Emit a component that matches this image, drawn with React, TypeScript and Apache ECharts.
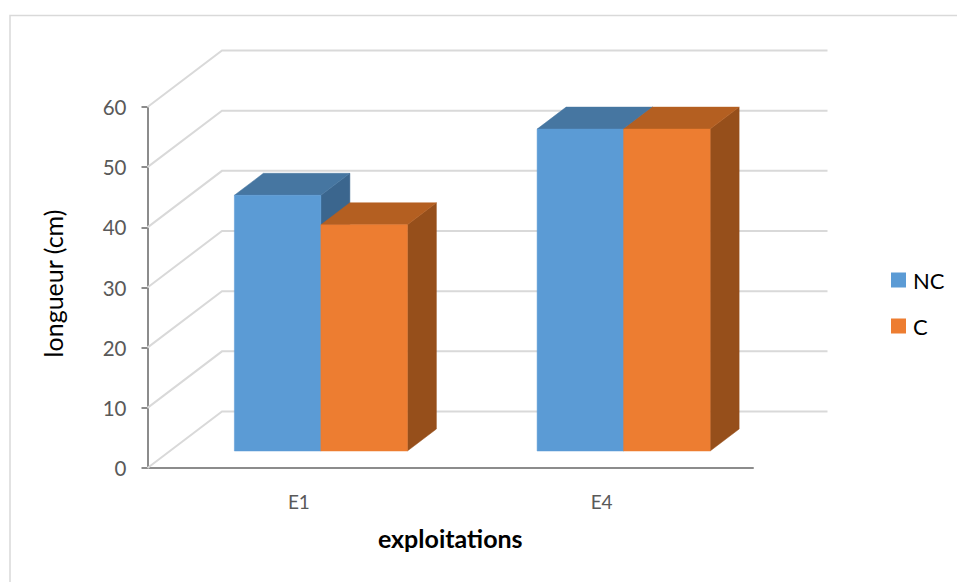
import React, { useEffect, useRef } from "react";
import * as echarts from "echarts";

const categories = ["E1", "E4"];
const ncValues = [42.5, 53.5];
const cValues = [37.6, 53.5];
const yTicks = [0, 10, 20, 30, 40, 50, 60];
const seriesNames = ["NC", "C"];
const FONT = "Lato, Carlito, sans-serif";

const palette = [
  { front: "#5B9BD5", top: "#4676A1", side: "#3B668E" },
  { front: "#ED7D31", top: "#B45F21", side: "#964F1B" },
];

const WALL_DX = 74.5;
const WALL_DY = 56.5;
const BAR_W = 86.5;
const BAR_DX = 29;
const BAR_DY = 22;
const FRONT_DX = 22;
const FRONT_DY = 17;

function renderBar(seriesIdx: number) {
  return (params: any, api: any) => {
    const [cx, y0] = api.coord([api.value(0), 0]);
    const [, yTop] = api.coord([api.value(0), api.value(1)]);
    const x1 = cx + FRONT_DX + (seriesIdx - 1) * BAR_W;
    const x2 = x1 + BAR_W;
    const b = y0 - FRONT_DY;
    const t = yTop - FRONT_DY;
    const c = palette[seriesIdx];
    const poly = (points: number[][], fill: string) => ({
      type: "polygon",
      shape: { points },
      style: { fill, stroke: fill, lineWidth: 0.5 },
    });
    return {
      type: "group",
      children: [
        poly([[x2, t], [x2 + BAR_DX, t - BAR_DY], [x2 + BAR_DX, b - BAR_DY], [x2, b]], c.side),
        poly([[x1, t], [x1 + BAR_DX, t - BAR_DY], [x2 + BAR_DX, t - BAR_DY], [x2, t]], c.top),
        poly([[x1, t], [x2, t], [x2, b], [x1, b]], c.front),
      ],
    };
  };
}

function renderWallLine(params: any, api: any) {
  const sys = params.coordSys;
  const y = api.coord([0, api.value(1)])[1];
  return {
    type: "polyline",
    shape: {
      points: [
        [sys.x, y],
        [sys.x + WALL_DX, y - WALL_DY],
        [sys.x + sys.width + WALL_DX, y - WALL_DY],
      ],
    },
    style: { stroke: "#D9D9D9", lineWidth: 2, fill: "none" },
  };
}

export default function App() {
  const ref = useRef<HTMLDivElement>(null);
  useEffect(() => {
    document.body.style.margin = "0";
    const chart = echarts.init(ref.current!, null, { renderer: "svg" });
    chart.setOption({
      animation: false,
      backgroundColor: "#ffffff",
      textStyle: { fontFamily: FONT },
      grid: { left: 147.5, top: 107, width: 605.5, height: 361 },
      legend: {
        data: seriesNames,
        orient: "vertical",
        left: 886,
        top: 264,
        itemWidth: 15,
        itemHeight: 15,
        itemGap: 24,
        icon: "rect",
        textStyle: { fontFamily: FONT, fontSize: 22, color: "#000000", padding: [0, 0, 0, 2] },
      },
      xAxis: {
        type: "category",
        data: categories,
        name: "exploitations",
        nameLocation: "middle",
        nameGap: 57,
        nameTextStyle: { fontFamily: FONT, fontSize: 25, fontWeight: "bold", color: "#000000" },
        axisTick: { show: false },
        axisLine: { lineStyle: { color: "#8C8C8C", width: 2 } },
        axisLabel: { fontFamily: FONT, fontSize: 19, color: "#595959", margin: 24 },
        splitLine: { show: false },
      },
      yAxis: {
        type: "value",
        min: 0,
        max: 60,
        interval: 10,
        name: "longueur (cm)",
        nameLocation: "middle",
        nameGap: 82,
        nameTextStyle: { fontFamily: FONT, fontSize: 25, color: "#000000", padding: [0, 0, 0, 8] },
        axisLine: { show: true, lineStyle: { color: "#8C8C8C", width: 2 } },
        axisTick: { show: true, length: 6, lineStyle: { color: "#8C8C8C", width: 2 } },
        axisLabel: { fontFamily: FONT, fontSize: 20.5, color: "#595959", margin: 21 },
        splitLine: { show: false },
      },
      graphic: [
        {
          type: "polyline",
          shape: { points: [[10, 582], [10, 15.5], [957, 15.5]] },
          style: { stroke: "#D9D9D9", lineWidth: 1.5, fill: "none" },
        },
      ],
      series: [
        {
          name: "wall",
          type: "custom",
          silent: true,
          renderItem: renderWallLine,
          encode: { x: 0, y: 1 },
          data: yTicks.map((v) => [0, v]),
          z: 1,
        },
        {
          name: "NC",
          type: "custom",
          renderItem: renderBar(0),
          encode: { x: 0, y: 1 },
          itemStyle: { color: palette[0].front },
          data: ncValues.map((v, i) => [i, v]),
          z: 2,
        },
        {
          name: "C",
          type: "custom",
          renderItem: renderBar(1),
          encode: { x: 0, y: 1 },
          itemStyle: { color: palette[1].front },
          data: cValues.map((v, i) => [i, v]),
          z: 3,
        },
      ],
    });
    return () => chart.dispose();
  }, []);
  return <div ref={ref} style={{ width: 957, height: 582 }} />;
}
